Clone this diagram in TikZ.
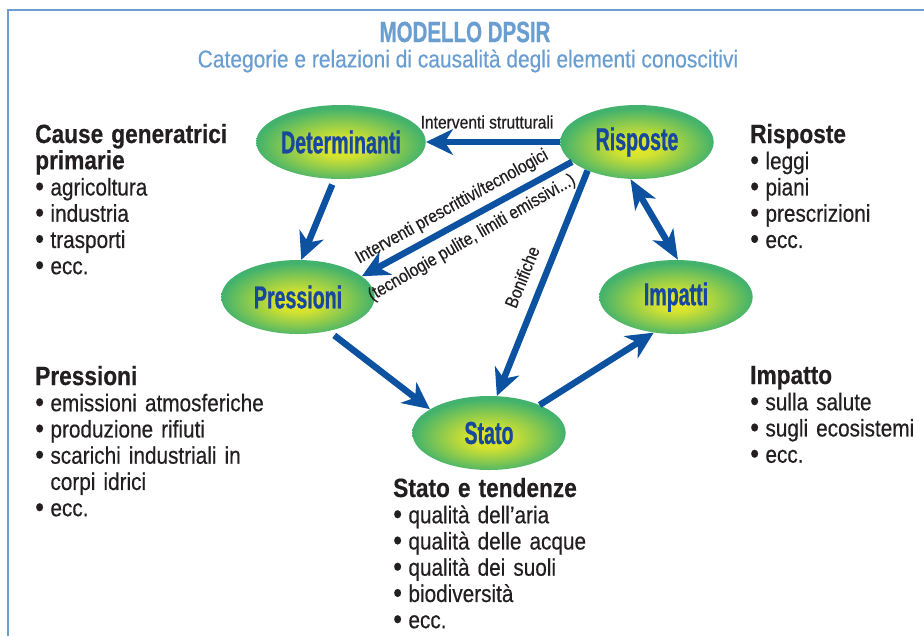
\documentclass[tikz,border=0pt]{standalone}
\usepackage{fontspec}
\setmainfont{Liberation Sans}[FakeStretch=0.86, FakeBold=0.4]
\newfontfamily\ovalfont{Liberation Sans}[FakeStretch=0.62, FakeBold=0.8]
\newfontfamily\headfont{Liberation Sans}[FakeStretch=0.7, FakeBold=0.5]
\usetikzlibrary{arrows.meta,shapes.geometric}
\definecolor{frameblue}{RGB}{106,158,208}
\definecolor{arrowblue}{RGB}{12,82,160}
\definecolor{ovaltext}{RGB}{24,72,158}
\definecolor{ovalyellow}{RGB}{230,232,40}
\definecolor{ovalgreen}{RGB}{66,178,108}
\definecolor{textblack}{RGB}{35,31,32}
\pgfdeclareradialshading{ovalshade}{\pgfpoint{0bp}{-4bp}}{color(0bp)=(ovalyellow); color(7bp)=(ovalyellow!88!ovalgreen); color(16bp)=(ovalyellow!45!ovalgreen); color(25bp)=(ovalgreen); color(50bp)=(ovalgreen)}
\newcommand{\itm}{\makebox[13pt][l]{\raisebox{-0.6pt}{\fontsize{25}{22}\selectfont\textbullet}}}
\newcommand{\itmgap}{\hspace*{13pt}}

\begin{document}
\begin{tikzpicture}[x=0.03cm,y=-0.03cm,
  oval/.style={ellipse, shade, shading=ovalshade, minimum width=4.6cm, minimum height=2.22cm, inner sep=0pt,
    text=ovaltext, font=\ovalfont\bfseries\fontsize{27}{30}\selectfont},
  flow/.style={draw=arrowblue, line width=5.5pt, -{Stealth[length=23pt,width=22pt,inset=7pt]}},
  both/.style={draw=arrowblue, line width=5.5pt, {Stealth[length=25pt,width=20pt,inset=7pt]}-{Stealth[length=25pt,width=20pt,inset=7pt]}},
  flowlabel/.style={text=textblack, inner sep=0pt, font=\fontsize{15.5}{17}\selectfont},
  block/.style={anchor=base west, inner sep=0pt, text width=7.5cm, align=left, text=textblack,
    font=\fontsize{20.6}{22.4}\selectfont}]
\useasboundingbox (0,0) rectangle (924,636);
\draw[frameblue, line width=2.5pt] (8,636) -- (8,10) -- (924,10);
\node[text=frameblue, font=\headfont\bfseries\fontsize{25}{26}\selectfont] (title) at (465,32) {MODELLO DPSIR};
\node[text=frameblue, font=\fontsize{20.8}{22}\selectfont] (subtitle) at (468,61) {Categorie e relazioni di causalità degli elementi conoscitivi};
\node[oval] (det) at (341,142) {Determinanti};
\node[oval] (ris) at (637,142) {Risposte};
\node[oval] (pre) at (298,297) {Pressioni};
\node[oval] (imp) at (676,297) {Impatti};
\node[oval] (sta) at (489,433) {Stato};
\draw[flow] (ris.west) -- (det.east);
\draw[flow, shorten <=5pt] (det.-100) -- (pre.85);
\draw[flow] (ris.197) -- (pre.18);
\draw[flow] (ris.210) -- (sta.78);
\draw[flow, shorten <=6pt] (pre.-48) -- (sta.158);
\draw[flow] (sta.29) -- (imp.-122);
\draw[both] (ris.-100) -- (imp.87);
\node[flowlabel] (strut) at (487,122) {Interventi strutturali};
\node[flowlabel, rotate=29] (prescr) at (452,207) {Interventi prescrittivi/tecnologici};
\node[flowlabel, rotate=30] (tecno) at (472,238) {(tecnologie pulite, limiti emissivi...)};
\node[flowlabel, rotate=68] (bonif) at (522,277) {Bonifiche};
\node[block] (causes) at (35,143) {{\bfseries\fontsize{22.5}{22.4}\selectfont Cause generatrici\\primarie}\\
  \itm agricoltura\\ \itm industria\\ \itm trasporti\\ \itm ecc.};
\node[block] (press) at (35,385) {{\bfseries\fontsize{22.5}{22.4}\selectfont Pressioni}\\
  \itm emissioni atmosferiche\\ \itm produzione rifiuti\\ \itm scarichi industriali in\\ \itmgap corpi idrici\\ \itm ecc.};
\node[block] (state) at (393,497) {{\bfseries\fontsize{22.5}{22.4}\selectfont Stato e tendenze}\\
  \itm qualità dell’aria\\ \itm qualità delle acque\\ \itm qualità dei suoli\\ \itm biodiversità\\ \itm ecc.};
\node[block, text width=5.2cm] (resp) at (750,143) {{\bfseries\fontsize{22.5}{22.4}\selectfont Risposte}\\
  \itm leggi\\ \itm piani\\ \itm prescrizioni\\ \itm ecc.};
\node[block, text width=5.2cm] (impact) at (750,384) {{\bfseries\fontsize{22.5}{22.4}\selectfont Impatto}\\
  \itm sulla salute\\ \itm sugli ecosistemi\\ \itm ecc.};
\end{tikzpicture}
\end{document}
